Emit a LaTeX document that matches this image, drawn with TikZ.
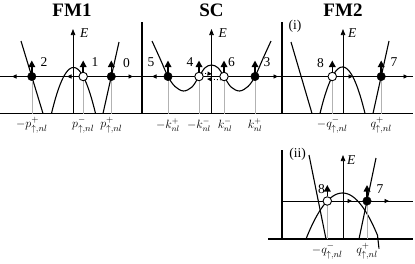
\documentclass[tikz,border=0pt]{standalone}
\usepackage{fontspec}
\setmainfont{Liberation Serif}
\usetikzlibrary{arrows.meta}
\tikzset{
  curve/.style={line width=1.1pt},
  axis/.style={line width=0.7pt},
  base/.style={line width=1.1pt},
  drop/.style={line width=0.6pt, black!30},
  fdot/.style={circle,fill=black,draw=black,inner sep=0pt,minimum size=8.5pt},
  odot/.style={circle,fill=white,draw=black,line width=0.9pt,inner sep=0pt,minimum size=8.5pt},
  eaxis/.style={axis,-{Triangle[length=6pt,width=4.5pt]}},
  spinarrow/.style={draw=black,line width=1.6pt,-{Triangle[length=6.5pt,width=6.5pt]}},
  harr/.style={line width=0.9pt,dotted,-{Triangle[length=4.5pt,width=4pt]}},
  lbl/.style={font=\fontsize{13.5}{13.5}\selectfont, inner sep=0pt},
  klbl/.style={font=\fontsize{12}{12}\selectfont, inner sep=0pt},
  plbl/.style={font=\fontsize{12.5}{12.5}\selectfont, inner sep=0pt},
  ttl/.style={font=\fontsize{19}{19}\selectfont\bfseries, inner sep=0pt}
}
\begin{document}
\begin{tikzpicture}[x=1pt,y=-1pt]
\useasboundingbox (0,0) rectangle (415,263);

% ---------- titles ----------
\node[ttl] (t1) at (72,10) {FM1};
\node[ttl] (t2) at (211.5,10) {SC};
\node[ttl] (t3) at (343,10) {FM2};
\node[lbl] (ci) at (295,26) {(i)};
\node[lbl] (cii) at (297.5,154) {(ii)};

% ---------- frame lines (top) ----------
\coordinate (bL) at (0,113.5);
\coordinate (bR) at (413,113.5);
\coordinate (fL) at (0,76.5);
\coordinate (fR) at (413,76.5);
\draw[base] (bL) -- (bR);
\draw[axis] (fL) -- (fR);
\coordinate (v1t) at (142,22); \coordinate (v1b) at (142,113.5);
\coordinate (v2t) at (282,22); \coordinate (v2b) at (282,113.5);
\draw[curve] (v1t) -- (v1b);
\draw[curve] (v2t) -- (v2b);

% ---------- frame lines (ii) ----------
\coordinate (bL2) at (268,239);
\coordinate (bR2) at (413,239);
\coordinate (fL2) at (282,201);
\coordinate (fR2) at (413,201);
\coordinate (v3t) at (282,150); \coordinate (v3b) at (282,239);
\draw[base] (bL2) -- (bR2);
\draw[axis] (fL2) -- (fR2);
\draw[curve] (v3t) -- (v3b);

% ---------- spin arrow end points ----------
\coordinate (u2) at (31.8,60.5);
\coordinate (u1) at (83.2,60.5);
\coordinate (u0) at (111.3,60.5);
\coordinate (u5) at (168,60.5);
\coordinate (u4) at (199,60.5);
\coordinate (u6) at (224,60.5);
\coordinate (u3) at (255,60.5);
\coordinate (u8) at (332.3,60.5);
\coordinate (u7) at (381.2,60.5);
\coordinate (u8b) at (327.3,185);
\coordinate (u7b) at (367,185);

% ---------- FM1 ----------
\coordinate (e1b) at (73,113.5); \coordinate (e1t) at (73,29);
\draw[eaxis] (e1b) -- (e1t);
\node[lbl,anchor=west] (E1) at (80,33) {\itshape E};
\coordinate (l1a) at (21,41); \coordinate (l1b) at (43,113.5);
\draw[curve] (l1a) -- (l1b);
\coordinate (r1a) at (103,113.5); \coordinate (r1b) at (119,42);
\draw[curve] (r1a) -- (r1b);
\draw[curve] plot[domain=-22:22,samples=41] ({73.5+\x},{67.5+46*(\x/22)*(\x/22)});
\coordinate (g2) at (31.8,113.5); \coordinate (g1) at (83.2,113.5); \coordinate (g0) at (111.3,113.5);
\draw[drop] (31.8,76.5) -- (g2);
\draw[drop] (83.2,76.5) -- (g1);
\draw[drop] (111.3,76.5) -- (g0);
\node[fdot] (d2) at (31.8,76.5) {};
\node[odot] (d1) at (83.2,76.5) {};
\node[fdot] (d0) at (111.3,76.5) {};
\path[spinarrow] (d2.center) -- (u2);
\path[spinarrow] (d1.north) -- (u1);
\path[spinarrow] (d0.center) -- (u0);
\coordinate (h2) at (12,76.5); \coordinate (h1) at (67,76.5); \coordinate (h0) at (133,76.5);
\draw[harr] (d2.west) -- (h2);
\draw[harr] (d1.west) -- (h1);
\draw[harr] (d0.east) -- (h0);
\node[lbl] (n2) at (44,62) {2};
\node[lbl] (n1) at (95,62.5) {1};
\node[lbl] (n0) at (126.5,63) {0};
\node[plbl] (k2) at (31.8,125.5) {$-p^{+}_{\uparrow,nl}$};
\node[plbl] (k1) at (83.2,125.5) {$p^{-}_{\uparrow,nl}$};
\node[plbl] (k0) at (111.3,125.5) {$p^{+}_{\uparrow,nl}$};

% ---------- SC ----------
\coordinate (e2b) at (211.5,113.5); \coordinate (e2t) at (211.5,29);
\draw[eaxis] (e2b) -- (e2t);
\node[lbl,anchor=west] (E2) at (218.5,33) {\itshape E};
\draw[curve] plot[smooth,tension=0.55] coordinates {(152,41) (160,58.5) (168,76.5) (175,86.5) (183.5,91) (192,87) (199,76.5) (205,67.8) (211.5,65) (218,67.8) (224,76.5) (231,87) (239.5,91) (248,86.5) (255,76.5) (263,58.5) (271,41)};
\coordinate (g5) at (168,113.5); \coordinate (g4) at (199,113.5); \coordinate (g6) at (224,113.5); \coordinate (g3) at (255,113.5);
\draw[drop] (168,76.5) -- (g5);
\draw[drop] (199,76.5) -- (g4);
\draw[drop] (224,76.5) -- (g6);
\draw[drop] (255,76.5) -- (g3);
\node[fdot] (d5) at (168,76.5) {};
\node[odot] (d4) at (199,76.5) {};
\node[odot] (d6) at (224,76.5) {};
\node[fdot] (d3) at (255,76.5) {};
\path[spinarrow] (d5.center) -- (u5);
\path[spinarrow] (d4.north) -- (u4);
\path[spinarrow] (d6.north) -- (u6);
\path[spinarrow] (d3.center) -- (u3);
\coordinate (h5) at (152,76.5); \coordinate (h3) at (278,76.5);
\coordinate (h4) at (212,74); \coordinate (h6) at (207,79);
\draw[harr] (d5.west) -- (h5);
\draw[harr] (d3.east) -- (h3);
\draw[harr] (d4.north east) -- (h4);
\draw[harr] (d6.south west) -- (h6);
\node[lbl] (n5) at (151,62) {5};
\node[lbl] (n4) at (190,62) {4};
\node[lbl] (n6) at (231.5,62) {6};
\node[lbl] (n3) at (267,62) {3};
\node[klbl] (k5) at (168,125.5) {$-k^{+}_{nl}$};
\node[klbl] (k4) at (199,125.5) {$-k^{-}_{nl}$};
\node[klbl] (k6) at (225,125.5) {$k^{-}_{nl}$};
\node[klbl] (k3) at (255,125.5) {$k^{+}_{nl}$};

% ---------- FM2 (i) ----------
\coordinate (e3b) at (343,113.5); \coordinate (e3t) at (343,29);
\draw[eaxis] (e3b) -- (e3t);
\node[lbl,anchor=west] (E3) at (348,33) {\itshape E};
\coordinate (l3a) at (291,42); \coordinate (l3b) at (312,113.5);
\draw[curve] (l3a) -- (l3b);
\coordinate (r3a) at (373,113.5); \coordinate (r3b) at (389,41);
\draw[curve] (r3a) -- (r3b);
\draw[curve] plot[domain=-22.5:22.5,samples=41] ({342.5+\x},{67+46.5*(\x/22.5)*(\x/22.5)});
\coordinate (g8) at (332.3,113.5); \coordinate (g7) at (381.2,113.5);
\draw[drop] (332.3,76.5) -- (g8);
\draw[drop] (381.2,76.5) -- (g7);
\node[odot] (d8) at (332.3,76.5) {};
\node[fdot] (d7) at (381.2,76.5) {};
\path[spinarrow] (d8.north) -- (u8);
\path[spinarrow] (d7.center) -- (u7);
\coordinate (h8) at (353,76.5); \coordinate (h7) at (408,76.5);
\draw[harr] (d8.east) -- (h8);
\draw[harr] (d7.east) -- (h7);
\node[lbl] (n8) at (320.5,63) {8};
\node[lbl] (n7) at (394,62) {7};
\node[plbl] (k8) at (332.3,125.5) {$-q^{-}_{\uparrow,nl}$};
\node[plbl] (k7) at (381.2,125.5) {$q^{+}_{\uparrow,nl}$};

% ---------- FM2 (ii) ----------
\coordinate (e4b) at (343,239); \coordinate (e4t) at (343,155);
\draw[eaxis] (e4b) -- (e4t);
\node[lbl,anchor=west] (E4) at (347,160) {\itshape E};
\coordinate (l4a) at (309,155); \coordinate (l4b) at (326,239);
\draw[curve] (l4a) -- (l4b);
\coordinate (r4a) at (359,239); \coordinate (r4b) at (376,158);
\draw[curve] (r4a) -- (r4b);
\draw[curve] plot[domain=-36.5:36.5,samples=51] ({342.5+\x},{193+46*(\x/36.5)*(\x/36.5)});
\coordinate (g8b) at (327.3,239); \coordinate (g7b) at (367,239);
\draw[drop] (327.3,201) -- (g8b);
\draw[drop] (367,201) -- (g7b);
\node[odot] (d8b) at (327.3,201) {};
\node[fdot] (d7b) at (367,201) {};
\path[spinarrow] (d8b.north) -- (u8b);
\path[spinarrow] (d7b.center) -- (u7b);
\coordinate (h8b) at (352,201); \coordinate (h7b) at (389,201);
\draw[harr] (d8b.east) -- (h8b);
\draw[harr] (d7b.east) -- (h7b);
\node[lbl] (n8b) at (321.5,189) {8};
\node[lbl] (n7b) at (380,189) {7};
\node[plbl] (k8b) at (327.3,251.5) {$-q^{-}_{\uparrow,nl}$};
\node[plbl] (k7b) at (367,251.5) {$q^{+}_{\uparrow,nl}$};
\end{tikzpicture}
\end{document}
